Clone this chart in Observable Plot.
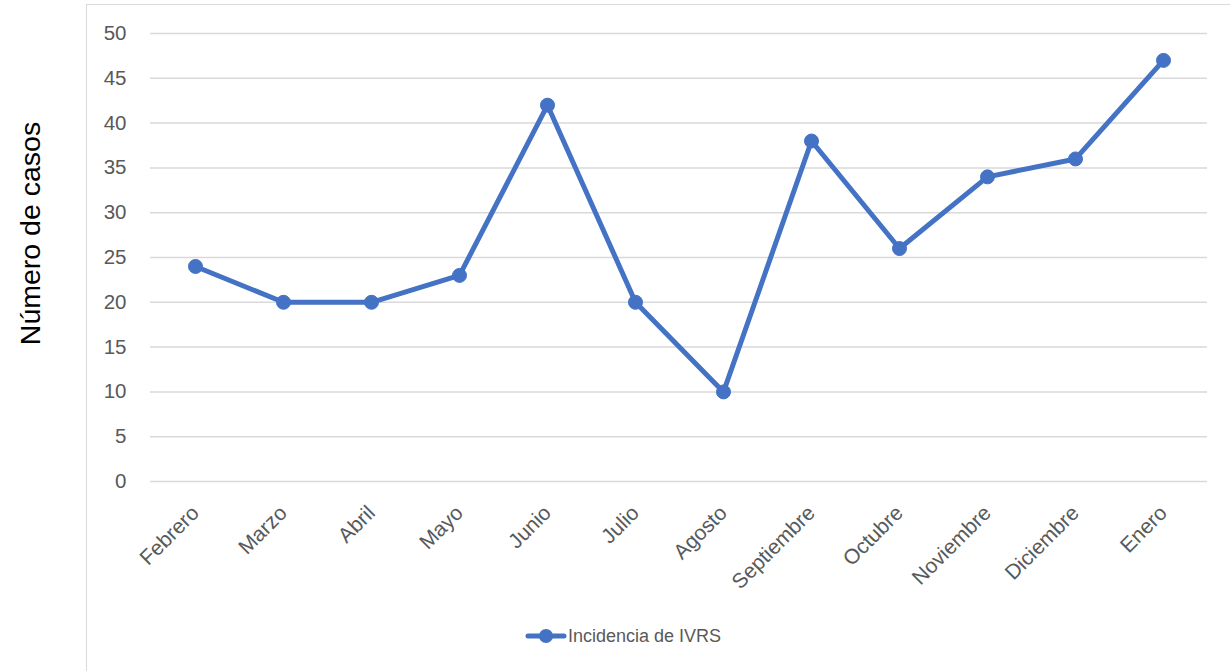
<!DOCTYPE html>
<html>
<head>
<meta charset="utf-8">
<script src="https://cdn.jsdelivr.net/npm/d3@7"></script>
<script src="https://cdn.jsdelivr.net/npm/@observablehq/plot@0.6"></script>
<style>
  html, body { margin: 0; padding: 0; background: #fff; overflow: hidden; }
  #wrap { position: relative; width: 1230px; height: 671px; overflow: hidden; font-family: "Liberation Sans", Arial, sans-serif; }
  #frame { position: absolute; left: 86px; top: 4px; width: 2000px; height: 2000px; border: 1.5px solid #d9d9d9; box-sizing: border-box; }
  #chart { position: absolute; left: 0; top: 0; }
  #legend { position: absolute; left: 524px; top: 624px; display: flex; align-items: center; font-size: 18px; color: #595959; }
</style>
</head>
<body>
<div id="wrap">
  <div id="frame"></div>
  <div id="chart"></div>
  <div id="legend"></div>
</div>
<script>
const months = ["Febrero","Marzo","Abril","Mayo","Junio","Julio","Agosto","Septiembre","Octubre","Noviembre","Diciembre","Enero"];
const cases = [24, 20, 20, 23, 42, 20, 10, 38, 26, 34, 36, 47];
const yTicks = [0, 5, 10, 15, 20, 25, 30, 35, 40, 45, 50];
const seriesName = "Incidencia de IVRS";
const yTitle = "Número de casos";

const data = months.map((m, i) => ({month: m, value: cases[i]}));
const blue = "#4472C4";

const plot = Plot.plot({
  width: 1230,
  height: 671,
  marginTop: 33,
  marginBottom: 190,
  marginLeft: 150,
  marginRight: 23,
  style: { fontFamily: "Liberation Sans, Arial, sans-serif", background: "transparent", overflow: "visible" },
  x: { type: "point", domain: months, padding: 0.5 },
  y: { domain: [0, 50] },
  marks: [
    Plot.gridY(yTicks, { stroke: "#d9d9d9", strokeOpacity: 1, strokeWidth: 1.5 }),
    Plot.axisY(yTicks, { tickSize: 0, tickPadding: 24, fontSize: 20.5, fill: "#595959", label: null }),
    Plot.axisX({ tickSize: 0, tickPadding: 28, tickRotate: -45, fontSize: 21, fill: "#595959", label: null }),
    Plot.line(data, { x: "month", y: "value", stroke: blue, strokeWidth: 5, strokeLinejoin: "round", strokeLinecap: "round" }),
    Plot.dot(data, { x: "month", y: "value", r: 7, fill: blue, stroke: blue, strokeWidth: 1 }),
    Plot.text([yTitle], { frameAnchor: "left", dx: -120, dy: -24, rotate: -90, textAnchor: "middle", fontSize: 28.5, fill: "#000" })
  ]
});
document.getElementById("chart").appendChild(plot);

// legend
const lg = document.getElementById("legend");
const sw = d3.create("svg").attr("width", 44).attr("height", 24);
sw.append("line").attr("x1", 4).attr("x2", 40).attr("y1", 12).attr("y2", 12)
  .attr("stroke", blue).attr("stroke-width", 5).attr("stroke-linecap", "round");
sw.append("circle").attr("cx", 22).attr("cy", 12).attr("r", 7).attr("fill", blue);
lg.appendChild(sw.node());
const span = document.createElement("span");
span.textContent = seriesName;
lg.appendChild(span);
</script>
</body>
</html>
